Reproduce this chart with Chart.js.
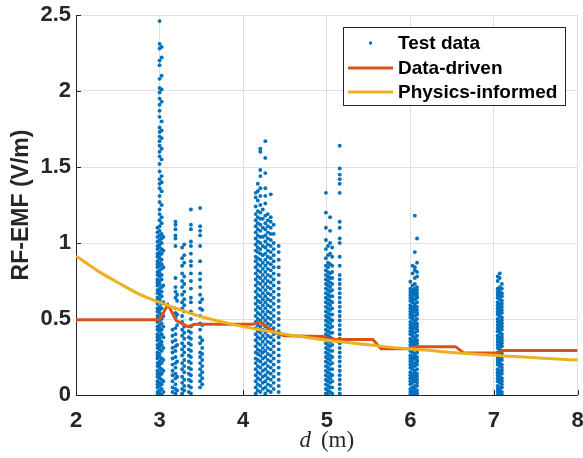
<!DOCTYPE html>
<html><head><meta charset="utf-8">
<script src="https://cdn.jsdelivr.net/npm/chart.js@4.4.1/dist/chart.umd.min.js"></script>
<style>html,body{margin:0;padding:0;background:#fff}</style>
</head><body>
<canvas id="c" width="583" height="458"></canvas>
<script>
// ---------- axes ----------
const xTicks = [2, 3, 4, 5, 6, 7, 8];
const yTicks = [0, 0.5, 1, 1.5, 2, 2.5];
const xTitle = ['d', '(m)'];
const yTitle = 'RF-EMF (V/m)';
const legendLabels = ['Test data', 'Data-driven', 'Physics-informed'];

// ---------- Data-driven curve ----------
const ddX = [2, 3.0, 3.1, 3.2, 3.34, 3.42, 4.12, 4.2, 4.42, 4.5, 4.95, 5.05, 5.55, 5.65, 6.0, 6.05, 6.54, 6.64, 7.03, 7.12, 8];
const ddY = [0.495, 0.495, 0.595, 0.49, 0.45, 0.465, 0.465, 0.48, 0.40, 0.39, 0.385, 0.365, 0.365, 0.305, 0.305, 0.318, 0.318, 0.277, 0.277, 0.292, 0.292];

// ---------- Physics-informed curve ----------
const piX = [2, 2.25, 2.5, 2.75, 3, 3.25, 3.5, 3.75, 4, 4.25, 4.5, 4.75, 5, 5.25, 5.5, 5.75, 6, 6.25, 6.5, 6.75, 7, 7.25, 7.5, 7.75, 8];
const piY = [0.915, 0.82, 0.74, 0.665, 0.61, 0.56, 0.515, 0.48, 0.45, 0.425, 0.40, 0.38, 0.36, 0.345, 0.33, 0.315, 0.303, 0.292, 0.28, 0.27, 0.261, 0.253, 0.245, 0.237, 0.23];

// ---------- Test data (read column by column) ----------
const a1 = [0,.02,.05,.07,.09,.12,.14,.16,.19,.21,.24,.26,.28,.31,.33,.36,.38,.40,.43,.45,.48,.50,.52,.55,.57,.60,.62,.64,.67,.69,.72,.74,.76,.79,.81,.84,.86,.88,.91,.93,.96,.98,1.01,1.04,1.07,1.10];
const a2 = [.01,.03,.06,.08,.11,.13,.15,.18,.20,.22,.25,.27,.30,.32,.34,.37,.39,.42,.44,.46,.49,.51,.54,.56,.58,.61,.63,.66,.68,.70,.73,.75,.78,.80,.82,.85,.87,.90,.92,.94,.97,.99,1.02,1.05,1.08,1.11,1.15,1.19,1.22,1.27,1.31,1.36,1.39,1.42,1.47,1.52,1.57,1.60,1.64,1.67,1.70,1.73,1.76,1.83,1.87,1.91,1.95,1.99,2.02,2.08,2.17,2.20,2.28,2.31,2.46];
const a3 = [0,.04,.07,.10,.14,.17,.21,.24,.29,.33,.35,.40,.43,.47,.50,.53,.57,.60,.65,.68,.71,.76,.79,.83,.86,.89,.93,.96,1.00,1.03,1.06,1.13,1.17,1.25,1.34,1.40,1.44,1.55,1.62,1.69,1.74,1.80,1.93,2.01,2.10,2.22,2.29];
const a4 = [.02,.09,.16,.23,.31,.38,.45,.52,.61,.72,.84,.95,1.04];
const b1 = [.02,.05,.09,.13,.16,.20,.24,.28,.31,.35,.39,.43];
const b2 = [.01,.04,.07,.11,.14,.18,.21,.25,.29,.32,.36,.40,.44,.51,.54,.57,.64,.68,.71,.77,.98,1.03,1.05,1.09,1.12,1.14];
const b3 = [.03,.12,.22,.33,.46,.53,.62,.66];
const c1 = [.01,.04,.08,.12,.17,.21,.26,.30,.34,.39,.43,.48,.52,.57,.61,.66,.71,.75,.80,.85,.90,.97];
const c2 = [.03,.06,.10,.15,.19,.23,.28,.32,.37,.41,.45,.55,.59,.63,.68,.73,.78,.87,.92,.99];
const d1 = [.02,.06,.10,.14,.18,.22,.26,.30,.34,.38,.42];
const d2 = [.01,.05,.09,.13,.17,.21,.25,.29,.33,.37,.41,.45,.50,.55,.61,.64,.70,.75,.80,.85,.88,.93,.98,1.01,1.09,1.12,1.22];
const e1 = [.05,.09,.13,.17,.21,.25,.28,.34,.38,.43,.47,.52,.57,.61,.66,.71,.76,.80,.88,.98,1.05,1.08,1.11,1.23];
const e2 = [.07,.11,.15,.19,.23,.27,.31,.36,.46,.56,.63];
const f1 = [.01,.05,.09,.13,.17,.21,.24,.28,.32,.36,.40,.44,.48,.52,.56,.60,.64,.68,.72,.76,.80,.84,.88,.91,.95,.99,1.03,1.07,1.11,1.15,1.19,1.24,1.30,1.33];
const f2 = [.03,.07,.11,.15,.19,.23,.27,.30,.34,.38,.42,.46,.50,.54,.58,.62,.66,.70,.74,.78,.82,.86,.90,.94,.97,1.01,1.05,1.09,1.13,1.17,1.21,1.28,1.34,1.39];
const f3 = [.02,.06,.10,.14,.18,.22,.26,.29,.33,.37,.41,.45,.49,.53,.57,.61,.65,.69,.73,.77,.81,.85,.89,.93,.96,1.00,1.04,1.08,1.12,1.16,1.20,1.25,1.31,1.36,1.44,1.48,1.60,1.62];
const f4 = [.04,.08,.12,.16,.20,.24,.28,.31,.35,.39,.43,.47,.51,.55,.59,.63,.67,.71,.75,.79,.83,.87,.92,.98,1.04,1.10,1.16,1.22];
const f5 = [.01,.05,.09,.13,.17,.21,.25,.29,.33,.37,.41,.45,.49,.53,.57,.61,.65,.69,.73,.77,.81,.85,.89,.93,.97,1.01,1.05,1.09,1.13,1.18,1.26,1.31,1.36,1.46,1.56,1.67];
const f6 = [.03,.07,.11,.15,.19,.23,.27,.31,.35,.39,.43,.47,.51,.55,.59,.63,.67,.71,.75,.79,.83,.87,.91,.95,.99,1.03,1.07,1.11,1.15,1.19];
const f7 = [.02,.06,.10,.14,.18,.22,.26,.30,.34,.38,.42,.46,.50,.54,.58,.62,.66,.70,.74,.78,.82,.86,.90,.94,.98,1.02,1.06,1.10,1.14,1.17,1.32];
const f8 = [.04,.08,.12,.16,.20,.24,.28,.32,.36,.40,.44,.48,.52,.56,.60,.64,.68,.72,.76,.80,.84,.88,.92,.96,1.00,1.06,1.12];
const f9 = [.02,.06,.10,.14,.18,.22,.26,.30,.34,.38,.42,.46,.50,.54,.58,.62,.66,.70,.74,.79,.84,.89,.94,.98];
const g1 = [.01,.04,.07,.10,.13,.16,.19,.22,.25,.28,.31,.34,.37,.40,.43,.46,.49,.52,.55,.58,.61,.64,.67,.70,.73,.76,.79,.82,.85,.90,.96,1.02,1.10,1.20,1.33];
const g2 = [0,.03,.06,.09,.12,.15,.18,.21,.24,.27,.30,.33,.36,.39,.42,.45,.48,.51,.54,.57,.60,.63,.66,.69,.72,.75,.78,.81,.84,.87,.92,.98];
const g3 = [.02,.05,.08,.11,.14,.17,.20,.23,.26,.29,.32,.35,.38,.41,.44,.47,.50,.53,.56,.59,.62,.65,.68,.71,.74,.77,.80,.86,.93,1.00,1.08,1.17];
const g4 = [.01,.05,.09,.13,.17,.21,.25,.29,.33,.37,.41,.45,.49,.53,.57,.61,.65,.69,.73,.77,.81,.85,.91,.97];
const g5 = [.01,.04,.07,.10,.13,.16,.19,.22,.25,.28,.31,.34,.37,.40,.43,.46,.49,.52,.55,.58,.61,.64,.67,.70,.73,.76,.79,.85,.91,1.00,1.03,1.10,1.14,1.33,1.39,1.42,1.45,1.49,1.64];
const h1 = [0,.02,.04,.07,.09,.11,.13,.15,.18,.20,.22,.24,.26,.29,.31,.33,.35,.37,.40,.42,.44,.46,.48,.51,.53,.55,.57,.59,.62,.64,.66,.68,.70,.745];
const h2 = [.01,.03,.05,.08,.10,.12,.14,.17,.19,.21,.23,.25,.28,.30,.32,.34,.36,.39,.41,.43,.45,.47,.50,.52,.54,.56,.58,.61,.63,.65,.67,.69,.72,.80,.85];
const h3 = [0,.02,.04,.06,.09,.11,.13,.15,.16,.19,.21,.24,.26,.27,.30,.33,.35,.37,.38,.41,.44,.46,.48,.49,.52,.55,.57,.59,.60,.63,.66,.68,.70,.73,.77,.82,.84,.94,1.18];
const h4 = [.01,.03,.06,.08,.10,.12,.14,.17,.20,.22,.23,.25,.28,.31,.32,.34,.36,.39,.42,.43,.45,.47,.50,.53,.54,.56,.58,.61,.64,.65,.67,.69,.71,.78,.81,.87,1.03];
const i1 = [0,.02,.04,.06,.09,.11,.13,.15,.17,.20,.22,.24,.26,.28,.31,.33,.35,.37,.39,.42,.44,.46,.48,.50,.53,.55,.57,.59,.61,.64,.66,.68,.70,.75,.78];
const i2 = [.01,.03,.05,.08,.10,.12,.14,.16,.19,.21,.23,.25,.27,.30,.32,.34,.36,.38,.41,.43,.45,.47,.49,.52,.54,.56,.58,.60,.63,.65,.67,.69,.71,.77,.80];
const i3 = [0,.02,.05,.07,.09,.11,.14,.16,.18,.20,.23,.25,.27,.29,.32,.34,.36,.38,.40,.43,.45,.47,.49,.51,.54,.56,.58,.60,.62,.65,.67,.70,.73];

// column positions (d, m) paired with the value lists above
const testColX = [2.975, 3.0, 3.025, 3.045, 3.155, 3.19, 3.21, 3.27, 3.295, 3.35, 3.375, 3.485, 3.51,
  4.15, 4.175, 4.205, 4.235, 4.265, 4.295, 4.33, 4.365, 4.425,
  4.99, 5.015, 5.04, 5.065, 5.155,
  6.0, 6.027, 6.054, 6.08,
  7.045, 7.07, 7.095];
const testColY = [a1, a2, a3, a4, b1, b2, b3, c1, c2, d1, d2, e1, e2,
  f1, f2, f3, f4, f5, f6, f7, f8, f9,
  g1, g2, g3, g4, g5,
  h1, h2, h3, h4,
  i1, i2, i3];

const testPts = [];
testColX.forEach((x, k) => testColY[k].forEach(y => testPts.push({x: x, y: y})));
const ddPts = ddX.map((x, k) => ({x: x, y: ddY[k]}));
const piPts = piX.map((x, k) => ({x: x, y: piY[k]}));

const BLUE = '#0072BD', RED = '#D95319', YEL = '#EDB120', AX = '#262626';

const extras = {
  id: 'extras',
  beforeDatasetsDraw(chart) {
    const ctx = chart.ctx, xs = chart.scales.x, ys = chart.scales.y;
    const ca = chart.chartArea;
    ctx.save();
    ctx.strokeStyle = AX; ctx.lineWidth = 1;
    ctx.beginPath();
    xTicks.forEach(v => { const p = Math.round(xs.getPixelForValue(v)) + 0.5; ctx.moveTo(p, ca.bottom); ctx.lineTo(p, ca.bottom - 5); });
    yTicks.forEach(v => { const p = Math.round(ys.getPixelForValue(v)) + 0.5; ctx.moveTo(ca.left, p); ctx.lineTo(ca.left + 5, p); });
    ctx.stroke();
    ctx.restore();
  },
  afterDraw(chart) {
    const ctx = chart.ctx;
    const ca = chart.chartArea;
    ctx.save();
    // x title: italic d + upright (m)
    ctx.fillStyle = AX;
    ctx.textBaseline = 'alphabetic';
    ctx.textAlign = 'left';
    const cx = (ca.left + ca.right) / 2;
    ctx.font = 'italic 23px "Liberation Serif"';
    const wD = ctx.measureText(xTitle[0]).width;
    ctx.font = '23px "Liberation Serif"';
    const wM = ctx.measureText(xTitle[1]).width;
    const gap = 10;
    const x0 = cx - (wD + gap + wM) / 2;
    ctx.font = 'italic 23px "Liberation Serif"';
    ctx.fillText(xTitle[0], x0, 447);
    ctx.font = '23px "Liberation Serif"';
    ctx.fillText(xTitle[1], x0 + wD + gap, 447);

    // legend
    const L = 343.5, T = 27.5, R = 565.5, B = 105.5;
    ctx.fillStyle = '#fff';
    ctx.fillRect(L, T, R - L, B - T);
    ctx.strokeStyle = AX; ctx.lineWidth = 1;
    ctx.strokeRect(L, T, R - L, B - T);
    const rows = [43, 68, 92];
    ctx.fillStyle = BLUE;
    ctx.beginPath(); ctx.arc(370.5, rows[0], 1.7, 0, Math.PI * 2); ctx.fill();
    ctx.lineWidth = 3;
    ctx.strokeStyle = RED;
    ctx.beginPath(); ctx.moveTo(348, rows[1]); ctx.lineTo(393, rows[1]); ctx.stroke();
    ctx.strokeStyle = YEL;
    ctx.beginPath(); ctx.moveTo(348, rows[2]); ctx.lineTo(393, rows[2]); ctx.stroke();
    ctx.fillStyle = '#000';
    ctx.font = 'bold 19px "Liberation Sans"';
    ctx.textBaseline = 'middle';
    legendLabels.forEach((t, k) => ctx.fillText(t, 398, rows[k] + 1));
    ctx.restore();
  }
};

new Chart(document.getElementById('c'), {
  type: 'scatter',
  data: {
    datasets: [
      { label: legendLabels[2], type: 'line', data: piPts, borderColor: YEL, borderWidth: 3, pointRadius: 0, fill: false, cubicInterpolationMode: 'monotone', order: 1 },
      { label: legendLabels[1], type: 'line', data: ddPts, borderColor: RED, borderWidth: 3, pointRadius: 0, fill: false, tension: 0, order: 2 },
      { label: legendLabels[0], data: testPts, backgroundColor: BLUE, borderWidth: 0, pointRadius: 1.95, pointHoverRadius: 1.95, order: 3 }
    ]
  },
  options: {
    responsive: false,
    animation: false,
    devicePixelRatio: 1,
    events: [],
    layout: { padding: { top: 15, right: 5.5, left: 0, bottom: 0 } },
    plugins: { legend: { display: false }, tooltip: { enabled: false } },
    scales: {
      x: {
        type: 'linear', min: 2, max: 8,
        afterBuildTicks: s => { s.ticks = xTicks.map(v => ({value: v})); },
        afterFit: s => { s.height = 63; s.paddingLeft = 0; s.paddingRight = 0; },
        grid: { color: '#dfdfdf', drawTicks: false },
        border: { color: AX, width: 1 },
        ticks: { color: AX, padding: 13, callback: v => String(v), font: { family: '"Liberation Sans"', size: 22, weight: 'bold' } }
      },
      y: {
        type: 'linear', min: 0, max: 2.5,
        afterBuildTicks: s => { s.ticks = yTicks.map(v => ({value: v})); },
        afterFit: s => { s.width = 76; s.paddingTop = 0; s.paddingBottom = 0; },
        grid: { color: '#dfdfdf', drawTicks: false },
        border: { color: AX, width: 1 },
        ticks: { color: AX, padding: 5, callback: v => String(v), font: { family: '"Liberation Sans"', size: 22, weight: 'bold' } },
        title: { display: true, text: yTitle, color: AX, padding: { top: 8, bottom: 0 }, font: { family: '"Liberation Sans"', size: 23, weight: 'bold' } }
      }
    }
  },
  plugins: [extras]
});
</script>
</body></html>
